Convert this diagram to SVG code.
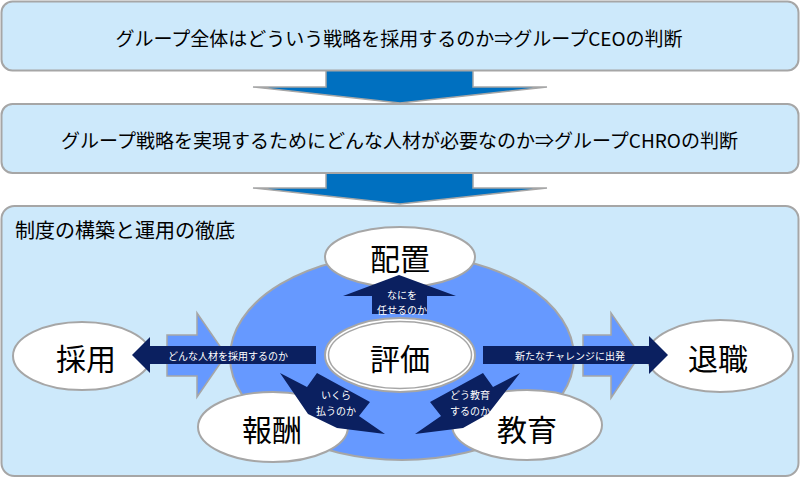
<svg xmlns="http://www.w3.org/2000/svg" width="800" height="478" viewBox="0 0 800 478">
<style>
.box{fill:#cde9fb;stroke:#a6a6a6;stroke-width:2}
.down{fill:#0070c0;stroke:#a6a6a6;stroke-width:1.5}
.t{font-family:"Noto Sans CJK JP","Noto Sans",sans-serif;fill:#000;dominant-baseline:central}
.big{font-size:30px;text-anchor:middle}
.hd{font-size:19px;text-anchor:middle}
.s{font-family:"Noto Sans CJK JP","Noto Sans",sans-serif;font-size:10px;fill:#fff;text-anchor:middle;dominant-baseline:central}
.node{fill:#fff;stroke:#a6a6a6;stroke-width:2}
.navy{fill:#0b2060}
.lb{fill:#6699ff;stroke:#a6a6a6;stroke-width:1.5}
</style>
<rect width="800" height="478" fill="#fff"/>
<g id="connectors-top">
<polygon class="down" points="326,68 473,68 473,87 547,87 400,103 253,87 326,87"/>
<polygon class="down" points="326,170 473,170 473,188 547,188 400,204 253,188 326,188"/>
</g>
<g id="box1">
<rect class="box" x="1.5" y="1.5" width="797" height="69" rx="11"/>
<text class="t hd" x="399" y="37">グループ全体はどういう戦略を採用するのか⇒グループCEOの判断</text>
</g>
<g id="box2">
<rect class="box" x="1.5" y="104" width="797" height="69" rx="11"/>
<text class="t hd" x="399.5" y="139">グループ戦略を実現するためにどんな人材が必要なのか⇒グループCHROの判断</text>
</g>
<g id="box3">
<rect class="box" x="1.5" y="206" width="797" height="270" rx="13"/>
<text class="t" x="15" y="229" font-size="20">制度の構築と運用の徹底</text>
</g>
<g id="block-arrows">
<polygon class="lb" points="167,335 197,335 197,313 226,355 197,397 197,376 167,376"/>
<polygon class="lb" points="583,335 611,335 611,313 640,355 611,398 611,376 583,376"/>
</g>
<g id="cycle">
<ellipse cx="402" cy="357" rx="172" ry="103" fill="#6699ff" stroke="#a6a6a6" stroke-width="2"/>
</g>
<g id="node-haichi">
<ellipse class="node" cx="400" cy="257" rx="75" ry="30"/>
<text class="t big" x="400" y="257">配置</text>
</g>
<g id="node-hyoka">
<ellipse class="node" cx="400" cy="355" rx="75" ry="37"/>
<ellipse cx="400" cy="355" rx="71.5" ry="33.5" fill="#fff" stroke="#a6a6a6" stroke-width="1.5"/>
<text class="t big" x="400" y="357">評価</text>
</g>
<g id="node-saiyo">
<ellipse class="node" cx="82" cy="356" rx="69" ry="34"/>
<text class="t big" x="86" y="357">採用</text>
</g>
<g id="node-taishoku">
<ellipse class="node" cx="720" cy="356" rx="73" ry="36"/>
<text class="t big" x="718" y="357">退職</text>
</g>
<g id="node-hoshu">
<ellipse class="node" cx="273" cy="427" rx="75" ry="35"/>
<text class="t big" x="272" y="428">報酬</text>
</g>
<g id="node-kyoiku">
<ellipse class="node" cx="527" cy="425" rx="75" ry="35"/>
<text class="t big" x="527" y="428">教育</text>
</g>
<g id="connectors">
<polygon class="navy" points="280,373 307,387 317,373 370,402 359,416 385,434 337,428 308,414"/>
<text class="s" x="336" y="394">いくら</text>
<text class="s" x="336" y="410">払うのか</text>
<polygon class="navy" points="520,373 493,387 483,373 430,402 441,416 415,434 463,428 488,414"/>
<text class="s" x="470" y="394">どう教育</text>
<text class="s" x="470" y="410">するのか</text>
<polygon class="navy" points="399,275 456,296 427,296 427,314 372,314 372,296 343,296"/>
<text class="s" x="402" y="294">なにを</text>
<text class="s" x="402" y="309">任せるのか</text>
<polygon class="navy" points="132,355 150,337 150,346 316,346 316,364 150,364 150,373"/>
<text class="s" x="228" y="355">どんな人材を採用するのか</text>
<polygon class="navy" points="483,346 649,346 649,336 668,355 649,374 649,364 483,364"/>
<text class="s" x="570" y="355">新たなチャレンジに出発</text>
</g>
</svg>
